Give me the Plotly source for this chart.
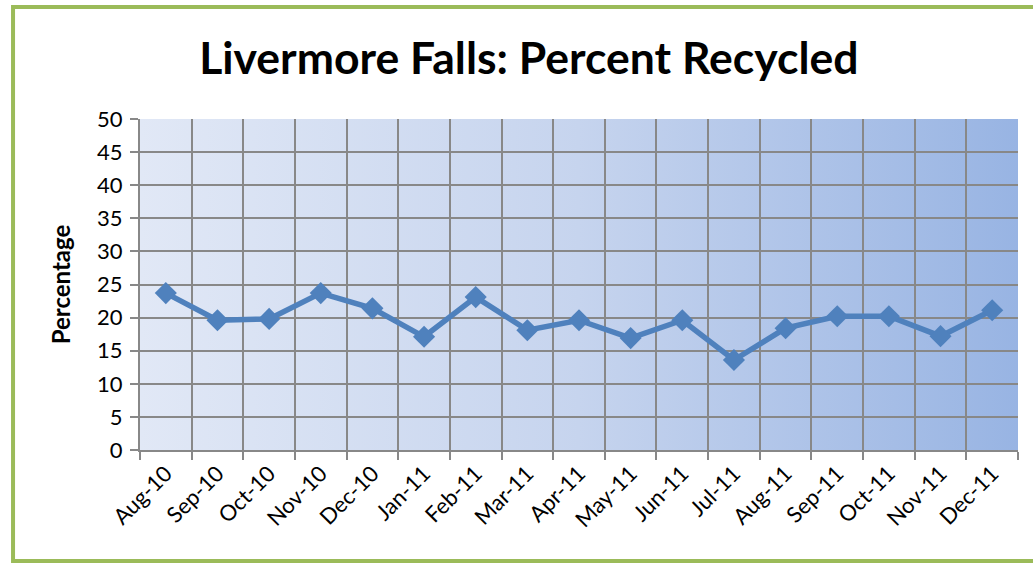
import plotly.graph_objects as go
import base64

months = ["Aug-10", "Sep-10", "Oct-10", "Nov-10", "Dec-10", "Jan-11", "Feb-11", "Mar-11",
          "Apr-11", "May-11", "Jun-11", "Jul-11", "Aug-11", "Sep-11", "Oct-11", "Nov-11", "Dec-11"]
percent_recycled = [23.7, 19.6, 19.8, 23.7, 21.4, 17.1, 23.1, 18.1,
                    19.6, 16.9, 19.6, 13.6, 18.4, 20.2, 20.2, 17.2, 21.1]
y_ticks = [0, 5, 10, 15, 20, 25, 30, 35, 40, 45, 50]

svg = ('<svg xmlns="http://www.w3.org/2000/svg" width="100" height="100" preserveAspectRatio="none">'
       '<defs><linearGradient id="g" x1="0" y1="0" x2="1" y2="0">'
       '<stop offset="0" stop-color="#E1E8F6"/><stop offset="0.5" stop-color="#C6D4EE"/>'
       '<stop offset="1" stop-color="#98B4E3"/></linearGradient></defs>'
       '<rect width="100" height="100" fill="url(#g)"/></svg>')
svg_uri = "data:image/svg+xml;base64," + base64.b64encode(svg.encode()).decode()

fig = go.Figure()
fig.add_trace(go.Scatter(
    x=months, y=percent_recycled, mode="lines+markers",
    line=dict(color="#4F81BD", width=5.5),
    marker=dict(symbol="diamond", size=17, color="#4F81BD"),
    hoverinfo="x+y", showlegend=False,
))

fig.add_layout_image(dict(source=svg_uri, xref="paper", yref="paper", x=0, y=1,
                          sizex=1, sizey=1, sizing="stretch", layer="below", xanchor="left", yanchor="top"))

fig.add_shape(type="rect", xref="paper", yref="paper",
              x0=-0.1446, x1=1.03, y0=-0.335, y1=1.338,
              line=dict(color="#9BBB59", width=4), layer="above")

fig.update_layout(
    width=1033, height=563,
    margin=dict(l=140, r=15, t=119, b=113),
    paper_bgcolor="white", plot_bgcolor="rgba(0,0,0,0)",
    font=dict(family="Lato, Carlito, sans-serif", color="black"),
    title=dict(text="<b>Livermore Falls: Percent Recycled</b>", x=0.512, xanchor="center",
               y=0.897, yanchor="middle", font=dict(size=44.5, family="Lato, sans-serif", color="black")),
    xaxis=dict(type="category", tickson="boundaries", showgrid=True, gridcolor="#888888", gridwidth=2,
               ticks="outside", ticklen=8, tickcolor="#888888", tickwidth=2,
               showline=True, linecolor="#888888", linewidth=2, mirror=False,
               tickangle=-45, tickfont=dict(size=22), range=[-0.5, 16.5]),
    yaxis=dict(range=[0, 50], tickvals=y_ticks, showgrid=True, gridcolor="#888888", gridwidth=2,
               ticks="outside", ticklen=8, tickcolor="#888888", tickwidth=2,
               showline=True, linecolor="#888888", linewidth=2, zeroline=False,
               tickfont=dict(size=22), ticklabelstandoff=3,
               title=dict(text="<b>Percentage</b>", font=dict(size=24), standoff=20)),
)

fig.write_html("out.html", config={"displayModeBar": False},
               post_script="document.body.style.margin='0';document.body.style.overflow='hidden';")
